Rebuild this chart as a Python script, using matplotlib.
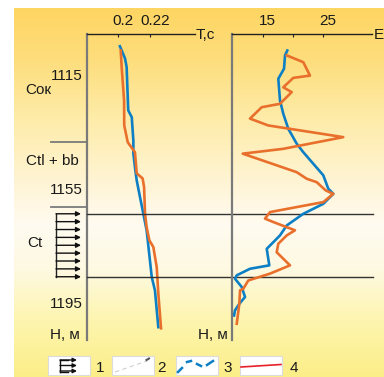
import numpy as np
import matplotlib
matplotlib.use('Agg')
import matplotlib.pyplot as plt
from matplotlib.transforms import blended_transform_factory
from matplotlib.patches import Rectangle

plt.rcParams['font.family'] = ['Liberation Sans', 'DejaVu Sans']

# ---------------- data ----------------
# Left panel: T, c vs depth H, m
blue_T_depth = [1105.1, 1109.4, 1112.4, 1127.6, 1130.0, 1138.2, 1142.7, 1147.6,
                1152.2, 1163.8, 1169.7, 1186.1, 1190.8, 1203.7]
blue_T = [0.2012, 0.2044, 0.2054, 0.2064, 0.2086, 0.2096, 0.2096, 0.2106,
          0.2117, 0.2158, 0.2179, 0.2211, 0.2231, 0.2252]
orange_T_depth = [1106.6, 1112.4, 1124.1, 1132.9, 1138.8, 1142.3, 1149.7, 1151.5,
                  1154.5, 1163.8, 1168.6, 1173.2, 1175.6, 1182.6, 1191.8, 1204.1]
orange_T = [0.2017, 0.2023, 0.2038, 0.2039, 0.2061, 0.2106, 0.2117, 0.2154,
            0.2163, 0.2169, 0.2179, 0.2196, 0.2221, 0.2242, 0.2252, 0.2269]

# Right panel: E vs depth H, m
blue_E_depth = [1106.6, 1108.3, 1113.0, 1116.5, 1124.1, 1128.8, 1134.1, 1139.3,
                1142.3, 1150.4, 1155.1, 1156.9, 1160.4, 1163.9, 1168.0, 1171.5,
                1176.2, 1182.0, 1183.2, 1185.5, 1186.7, 1189.6, 1193.1, 1195.5,
                1197.8, 1199.6]
blue_E = [19.05, 18.67, 18.5, 17.55, 17.83, 18.38, 19.22, 20.62,
          21.72, 25.05, 25.88, 26.72, 25.05, 21.72, 18.95, 17.83,
          15.62, 16.05, 12.83, 10.62, 10.33, 11.45, 12.0, 11.05,
          10.33, 10.17]
orange_E_depth = [1108.3, 1110.7, 1115.4, 1116.2, 1119.5, 1121.2, 1125.3, 1126.5,
                  1130.5, 1132.9, 1137.0, 1141.1, 1142.8, 1149.3, 1151.6, 1152.8,
                  1155.7, 1156.9, 1159.8, 1163.3, 1165.6, 1166.8, 1169.7, 1171.5,
                  1174.4, 1177.4, 1182.0, 1184.9, 1187.3, 1190.2, 1190.8, 1195.5,
                  1202.5]
orange_E = [18.95, 21.72, 22.83, 20.05, 18.38, 19.78, 17.83, 14.78,
            12.83, 15.88, 28.38, 18.38, 11.62, 20.62, 22.28, 23.95,
            25.45, 26.72, 25.05, 16.17, 15.33, 16.72, 20.33, 18.95,
            17.55, 17.28, 19.5, 16.17, 12.55, 11.72, 11.17, 11.05,
            10.62]

depth_ticks = [1115, 1155, 1195]
T_ticks = [0.2, 0.22]
T_tick_labels = ['0.2', '0.22']
E_ticks = [15, 20, 25]
E_tick_labels = ['15', '', '25']

zone_names = ['Сок', 'Ctl + bb', 'Ct']
zone_label_depths = [1120.6, 1145.2, 1174.3]
zone_bounds = [1138.7, 1161.4]
layer_bounds = [1163.9, 1186.0]
n_arrows = 9
legend_labels = ['1', '2', '3', '4']

# ---------------- figure ----------------
W, H = 384, 377
fig = plt.figure(figsize=(W / 100, H / 100), dpi=100)
fig.patch.set_facecolor('white')


def px(x0, y0, x1, y1):
    return [x0 / W, 1 - y1 / H, (x1 - x0) / W, (y1 - y0) / H]


# background gradient
bg = fig.add_axes(px(14, 8, 384, 377), zorder=-10)
stops_y = [8, 60, 120, 200, 225, 270, 320, 377]
stops_c = np.array([(253, 213, 98), (253, 222, 125), (254, 236, 170), (255, 247, 225),
                    (255, 251, 240), (254, 249, 225), (253, 245, 175), (251, 238, 135)]) / 255
yy = np.arange(8, 377)
grad = np.stack([np.interp(yy, stops_y, stops_c[:, k]) for k in range(3)], axis=-1)
grad = np.repeat(grad[:, None, :], 2, axis=1)
bg.imshow(grad, aspect='auto', interpolation='bilinear', extent=[0, 1, 1, 0])
bg.axis('off')

ylim = (1208.2, 1100.8)
FS = 11
blue_c = '#0d7fc4'
orange_c = '#e8702c'
spine_c = '#7a7a7a'

axL = fig.add_axes(px(87, 34, 195, 340))
axR = fig.add_axes(px(232, 34, 372, 340))
for ax in (axL, axR):
    ax.set_facecolor('none')
    ax.set_ylim(*ylim)
    for s in ('bottom', 'right'):
        ax.spines[s].set_visible(False)
    ax.spines['left'].set_color(spine_c)
    ax.spines['left'].set_linewidth(1.6)
    ax.spines['top'].set_color('#222222')
    ax.spines['top'].set_linewidth(1.0)
    ax.xaxis.tick_top()
    ax.tick_params(axis='x', direction='in', length=2, width=0.8, color='#222222',
                   labeltop=False)

axL.set_xlim(0.18063, 0.24813)
axR.set_xlim(9.83, 33.17)
axL.set_xticks(T_ticks)
axR.set_xticks(E_ticks)

axL.set_yticks(depth_ticks)
axL.set_yticklabels([str(d) for d in depth_ticks], fontsize=FS, color='#1a1a1a')
axL.tick_params(axis='y', length=0, pad=3)
axR.set_yticks([])

# top tick labels (slightly offset to the right, as in the reference)
for ax, ticks, labels in ((axL, T_ticks, T_tick_labels), (axR, E_ticks, E_tick_labels)):
    tr = blended_transform_factory(ax.transData, ax.transAxes)
    for t, lab in zip(ticks, labels):
        if lab:
            ax.annotate(lab, (t, 1), xycoords=tr, xytext=(3.5, 4), textcoords='offset points',
                        ha='center', va='bottom', fontsize=FS, color='#1a1a1a',
                        annotation_clip=False)

# curves
axL.plot(blue_T, blue_T_depth, color=blue_c, lw=1.9, solid_joinstyle='round')
axL.plot(orange_T, orange_T_depth, color=orange_c, lw=1.9, solid_joinstyle='round')
axR.plot(blue_E, blue_E_depth, color=blue_c, lw=1.9, solid_joinstyle='round')
axR.plot(orange_E, orange_E_depth, color=orange_c, lw=1.9, solid_joinstyle='round')

# long horizontal layer lines across both panels
span = (373 - 87) / 108
for d in layer_bounds:
    axL.axhline(d, xmin=0, xmax=span, color='#333333', lw=1.0, clip_on=False, zorder=3)

trL = blended_transform_factory(axL.transAxes, axL.transData)
fx = lambda p: (p - 87) / 108.0

# short zone boundary lines at left
for d in zone_bounds:
    axL.plot([fx(51), fx(87)], [d, d], transform=trL, color=spine_c, lw=1.3, clip_on=False)

# zone names
for name, d in zip(zone_names, zone_label_depths):
    x0 = 27 if name == 'Ct' else 25.5
    axL.text(fx(x0), d, name, transform=trL, ha='left', va='center', fontsize=FS,
             color='#1a1a1a', clip_on=False)

# arrows in Ct interval
axL.plot([fx(56), fx(56)], layer_bounds, transform=trL, color='#222222', lw=1.0, clip_on=False)
for d in np.linspace(layer_bounds[0], layer_bounds[1], n_arrows):
    axL.annotate('', xy=(fx(81), d), xycoords=trL, xytext=(fx(56), d), textcoords=trL,
                 arrowprops=dict(arrowstyle='-|>', color='#111111', lw=1.0,
                                 mutation_scale=7, shrinkA=0, shrinkB=0),
                 annotation_clip=False)

# axis titles
deco = fig.add_axes([0, 0, 1, 1], zorder=5)
deco.set_xlim(0, W)
deco.set_ylim(H, 0)
deco.axis('off')
deco.set_facecolor('none')
deco.text(196, 35, 'T,c', ha='left', va='center', fontsize=FS, color='#1a1a1a')
deco.text(373.5, 35, 'E', ha='left', va='center', fontsize=FS, color='#1a1a1a')
deco.text(50, 335, 'H, м', ha='left', va='center', fontsize=FS, color='#1a1a1a')
deco.text(198, 335, 'H, м', ha='left', va='center', fontsize=FS, color='#1a1a1a')

# legend
boxes = [(47.5, 89.5), (112, 153.5), (176, 217.5), (240, 282)]
num_x = [100, 161.5, 228, 294]
for (x0, x1), lab, nx in zip(boxes, legend_labels, num_x):
    deco.add_patch(Rectangle((x0, 355.5), x1 - x0, 19, facecolor='white',
                             edgecolor='#dcdcdc', lw=0.8))
    deco.text(nx, 368, lab, ha='center', va='center', fontsize=FS, color='#1a1a1a')

# icon 1: arrows
deco.plot([60, 60], [359.5, 371.5], color='#111111', lw=1.0)
deco.plot([60, 68], [359.5, 359.5], color='#111111', lw=1.0)
deco.plot([60, 68], [371.5, 371.5], color='#111111', lw=1.0)
for yv in (360, 365.5, 371):
    deco.annotate('', xy=(77, yv), xytext=(60, yv),
                  arrowprops=dict(arrowstyle='-|>', color='#111111', lw=1.0,
                                  mutation_scale=6, shrinkA=0, shrinkB=0))
# icon 2: faint dashed line
deco.plot([115, 147], [372, 361], color='#cfcfcf', lw=0.8, ls=(0, (4, 3)))
deco.plot([146.5, 149], [360, 358.5], color='#555555', lw=1.5)
# icon 3: blue dashes
xs3 = [[178, 182], [187, 191], [197, 201], [207, 213]]
ys3 = [[372, 368], [362, 361], [364, 366], [365, 361]]
for xs, ys in zip(xs3, ys3):
    deco.plot(xs, ys, color=blue_c, lw=1.8)
# icon 4: red line
deco.plot([241, 281], [367, 364.5], color='#e8202a', lw=1.2)

fig.savefig('out.png', dpi=100, facecolor='white')
